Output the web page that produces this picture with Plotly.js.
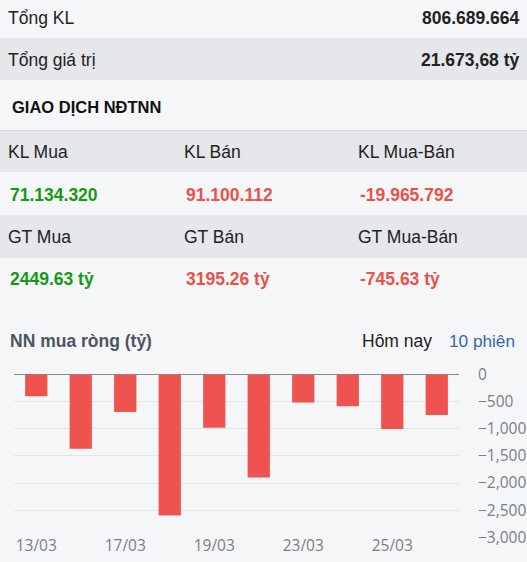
<!DOCTYPE html>
<html>
<head>
<meta charset="utf-8">
<script src="https://cdn.plot.ly/plotly-3.0.1.min.js"></script>
<style>
html,body{margin:0;padding:0;background:#f5f6f8;}
#chart{width:527px;height:562px;}
</style>
</head>
<body>
<div id="chart"></div>
<script>
// ---- data ----
const summaryLabels = ['Tổng KL', 'Tổng giá trị'];
const summaryValues = ['806.689.664', '21.673,68 tỷ'];
const sectionTitle = 'GIAO DỊCH NĐTNN';
const klLabels = ['KL Mua', 'KL Bán', 'KL Mua-Bán'];
const klValues = ['71.134.320', '91.100.112', '-19.965.792'];
const gtLabels = ['GT Mua', 'GT Bán', 'GT Mua-Bán'];
const gtValues = ['2449.63 tỷ', '3195.26 tỷ', '-745.63 tỷ'];
const chartTitle = 'NN mua ròng (tỷ)';
const tabLabels = ['Hôm nay', '10 phiên'];
const dates = ['13/03', '14/03', '17/03', '18/03', '19/03', '20/03', '23/03', '24/03', '25/03', '26/03'];
const netBuy = [-400, -1370, -690, -2600, -980, -1900, -515, -583, -1006, -745.63];
const yTicks = [0, -500, -1000, -1500, -2000, -2500, -3000];

// ---- geometry helpers ----
const W = 527, H = 562;
const X = px => px / W;
const Y = py => 1 - py / H;

const GREEN = '#159a15';
const RED = '#e8524a';
const BAR = '#ef5350';
const LIGHT = '#f5f6f8';
const DARK = '#e5e7eb';
const TXT = '#222222';
const FONT = 'Arial, "Liberation Sans", sans-serif';
const valueColors = [GREEN, RED, RED];

const shapes = [];
const band = (y0, y1, color) => shapes.push({type: 'rect', xref: 'paper', yref: 'paper', layer: 'below',
  x0: 0, x1: 1, y0: Y(y1), y1: Y(y0), fillcolor: color, line: {width: 0}});
band(38, 80, DARK);
band(131, 172, DARK);
band(215, 258, DARK);
shapes.push({type: 'line', xref: 'paper', yref: 'paper', x0: 0, x1: 1, y0: Y(130.5), y1: Y(130.5),
  line: {color: '#d3d6db', width: 1}});

const annotations = [];
const ann = (text, px, py, opts) => annotations.push(Object.assign({
  text: text, xref: 'paper', yref: 'paper', x: X(px), y: Y(py), xanchor: 'left', yanchor: 'middle',
  showarrow: false, borderpad: 0, font: {family: FONT, size: 17.5, color: TXT}}, opts || {}));

const summaryY = [18, 60];
summaryLabels.forEach((t, i) => ann(t, 7, summaryY[i]));
summaryValues.forEach((t, i) => ann('<b>' + t + '</b>', 521, summaryY[i], {xanchor: 'right'}));
ann('<b>' + sectionTitle + '</b>', 11, 107, {font: {family: FONT, size: 16.5, color: '#111'}});

const colX = [7, 183, 357];
klLabels.forEach((t, i) => ann(t, colX[i], 152));
klValues.forEach((t, i) => ann('<b>' + t + '</b>', colX[i] + 2, 195, {font: {family: FONT, size: 17.5, color: valueColors[i]}}));
gtLabels.forEach((t, i) => ann(t, colX[i], 237));
gtValues.forEach((t, i) => ann('<b>' + t + '</b>', colX[i] + 2, 279, {font: {family: FONT, size: 17.5, color: valueColors[i]}}));

ann('<b>' + chartTitle + '</b>', 9, 341, {font: {family: FONT, size: 17.5, color: '#4b5563'}});
ann(tabLabels[0], 361, 341, {font: {family: FONT, size: 17.5, color: TXT}});
ann(tabLabels[1], 448, 341, {font: {family: FONT, size: 17.2, color: '#3466b0'}});

const trace = {
  type: 'bar', x: dates, y: netBuy, marker: {color: BAR, line: {width: 0}},
  hoverinfo: 'x+y'
};

const layout = {
  width: W, height: H,
  margin: {l: 0, r: 0, t: 0, b: 0},
  paper_bgcolor: LIGHT, plot_bgcolor: 'rgba(0,0,0,0)',
  showlegend: false, bargap: 0.5,
  font: {family: '"Open Sans", sans-serif', size: 15, color: '#7a7f87'},
  xaxis: {
    type: 'category', domain: [X(14), X(459)], automargin: false,
    tickvals: dates.filter((d, i) => i % 2 === 0),
    ticks: '', ticklabelstandoff: -3,
    showgrid: false, showline: false, zeroline: false, fixedrange: true,
    tickfont: {family: '"Open Sans", sans-serif', size: 15.5, color: '#7a7f87'}
  },
  yaxis: {
    side: 'right', domain: [Y(537.3), Y(374.5)], automargin: false,
    range: [-3000, 0], tickvals: yTicks, separatethousands: true,
    ticks: '', ticklabelstandoff: 18,
    showgrid: true, gridcolor: '#e2e4e8', gridwidth: 1,
    zeroline: true, zerolinecolor: '#85888d', zerolinewidth: 1.5,
    showline: false, fixedrange: true,
    tickfont: {family: '"Open Sans", sans-serif', size: 15.5, color: '#7a7f87'}
  },
  shapes: shapes,
  annotations: annotations
};

Plotly.newPlot('chart', [trace], layout, {displayModeBar: false, staticPlot: true});
</script>
</body>
</html>
